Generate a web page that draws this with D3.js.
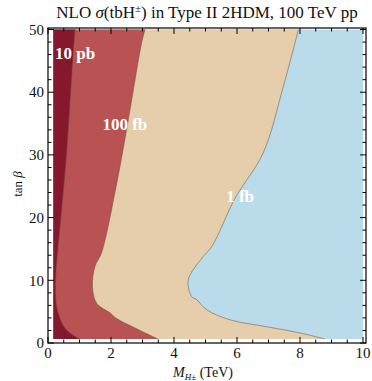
<!DOCTYPE html>
<html>
<head>
<meta charset="utf-8">
<script src="https://cdn.jsdelivr.net/npm/d3@7"></script>
<style>
  html, body { margin: 0; padding: 0; background: #fff; }
  svg { display: block; }
  text { font-family: "Liberation Serif", "DejaVu Serif", serif; fill: #111; }
</style>
</head>
<body>
<svg id="chart" width="372" height="381"></svg>
<script>
// ---- data ----
const xTicks = [0, 2, 4, 6, 8, 10];
const yTicks = [0, 10, 20, 30, 40, 50];
const xRange = [0.17, 10];      // M_H± (TeV) covered by the scan
const yRange = [0.64, 50];      // tan beta covered by the scan
const levelNames = ["10 pb", "100 fb", "1 fb"];
// contour boundaries: [M_H (TeV), tan beta], from top to bottom
const contour10pb = [[0.86, 50], [0.80, 46.2], [0.59, 30.3], [0.40, 19.6], [0.30, 14.3],
  [0.24, 10.0], [0.26, 6.3], [0.38, 3.9], [0.58, 2.1], [0.99, 0.64]];
const contour100fb = [[3.08, 50], [2.97, 47.8], [2.55, 35.6], [2.16, 24.9], [1.70, 14.4],
  [1.49, 12.2], [1.41, 9.0], [1.55, 6.3], [1.97, 4.8], [2.18, 3.9], [2.70, 2.55], [3.49, 0.64]];
const contour1fb = [[7.95, 50], [7.47, 40.9], [6.83, 30.3], [5.94, 23.1], [5.20, 15.4],
  [4.83, 13.2], [4.45, 10.0], [4.56, 7.4], [4.72, 6.9], [5.04, 5.3], [5.78, 3.7],
  [6.94, 2.6], [8.0, 1.6], [8.79, 0.64]];
const labelAnchors = [[0.86, 46.1], [2.44, 34.9], [6.1, 23.3]];
const regionColors = ["#86182d", "#b95252", "#e6cdab", "#badcea"];

// ---- drawing ----
const svg = d3.select("#chart");
const x = d3.scaleLinear().domain([0, 10]).range([48, 363]);
const y = d3.scaleLinear().domain([0, 50]).range([343, 29.5]);

const frame = { l: 48, r: 366, t: 28, b: 343 };

// background (below 1 fb)
svg.append("rect")
  .attr("x", x(xRange[0])).attr("y", y(yRange[1]))
  .attr("width", x(xRange[1]) - x(xRange[0]))
  .attr("height", y(yRange[0]) - y(yRange[1]))
  .attr("fill", regionColors[3]);

const area = d3.area()
  .curve(d3.curveCatmullRom.alpha(0.5))
  .y(d => y(d[1]))
  .x0(x(xRange[0]))
  .x1(d => x(d[0]));
const line = d3.line()
  .curve(d3.curveCatmullRom.alpha(0.5))
  .x(d => x(d[0])).y(d => y(d[1]));

const contours = [contour1fb, contour100fb, contour10pb];
const fills = [regionColors[2], regionColors[1], regionColors[0]];
contours.forEach((c, i) => {
  svg.append("path").datum(c).attr("d", area).attr("fill", fills[i]);
});
contours.forEach(c => {
  svg.append("path").datum(c).attr("d", line)
    .attr("fill", "none").attr("stroke", "rgba(95,75,60,0.5)").attr("stroke-width", 1);
});

// contour labels
levelNames.forEach((n, i) => {
  svg.append("text")
    .attr("x", x(labelAnchors[i][0])).attr("y", y(labelAnchors[i][1]))
    .attr("text-anchor", "middle").attr("dominant-baseline", "central")
    .style("fill", "#fff").style("font-weight", "bold").style("font-size", "17px")
    .text(n);
});

// frame
svg.append("rect")
  .attr("x", frame.l).attr("y", frame.t)
  .attr("width", frame.r - frame.l).attr("height", frame.b - frame.t)
  .attr("fill", "none").attr("stroke", "#000").attr("stroke-width", 1.2);

// ticks (inward)
const xMinor = d3.range(0, 10.01, 0.5);
const yMinor = d3.range(0, 50.01, 2);
const tg = svg.append("g").attr("stroke", "#000").attr("stroke-width", 1);
xMinor.forEach(v => {
  const major = Math.abs(v % 2) < 1e-9;
  const len = major ? 6 : 3.5;
  tg.append("line").attr("x1", x(v)).attr("x2", x(v)).attr("y1", frame.b).attr("y2", frame.b - len);
  tg.append("line").attr("x1", x(v)).attr("x2", x(v)).attr("y1", frame.t).attr("y2", frame.t + len);
});
yMinor.forEach(v => {
  const major = Math.abs(v % 10) < 1e-9;
  const len = major ? 6 : 3.5;
  tg.append("line").attr("y1", y(v)).attr("y2", y(v)).attr("x1", frame.l).attr("x2", frame.l + len);
  tg.append("line").attr("y1", y(v)).attr("y2", y(v)).attr("x1", frame.r).attr("x2", frame.r - len);
});

// tick labels
xTicks.forEach(v => {
  svg.append("text").attr("x", x(v)).attr("y", 358)
    .attr("text-anchor", "middle").style("font-size", "15px").text(v);
});
yTicks.forEach(v => {
  svg.append("text").attr("x", 44).attr("y", y(v)).attr("dy", "0.35em")
    .attr("text-anchor", "end").style("font-size", "15px").text(v);
});

// title
const title = svg.append("text").attr("x", 207).attr("y", 18)
  .attr("text-anchor", "middle").style("font-size", "17px");
title.append("tspan").text("NLO ");
title.append("tspan").style("font-style", "italic").text("σ");
title.append("tspan").text("(tbH");
title.append("tspan").attr("dy", -6).style("font-size", "11px").text("±");
title.append("tspan").attr("dy", 6).text(") in Type II 2HDM, 100 TeV pp");

// x label
const xl = svg.append("text").attr("x", 203).attr("y", 377)
  .attr("text-anchor", "middle").style("font-size", "14px");
xl.append("tspan").style("font-style", "italic").text("M");
xl.append("tspan").attr("dy", 3).style("font-size", "9px").style("font-style", "italic").text("H±");
xl.append("tspan").attr("dy", -3).text(" (TeV)");

// y label
const yl = svg.append("text").attr("transform", "translate(22,184) rotate(-90)")
  .attr("text-anchor", "middle").style("font-size", "13px");
yl.append("tspan").text("tan ");
yl.append("tspan").style("font-style", "italic").text("β");
</script>
</body>
</html>
